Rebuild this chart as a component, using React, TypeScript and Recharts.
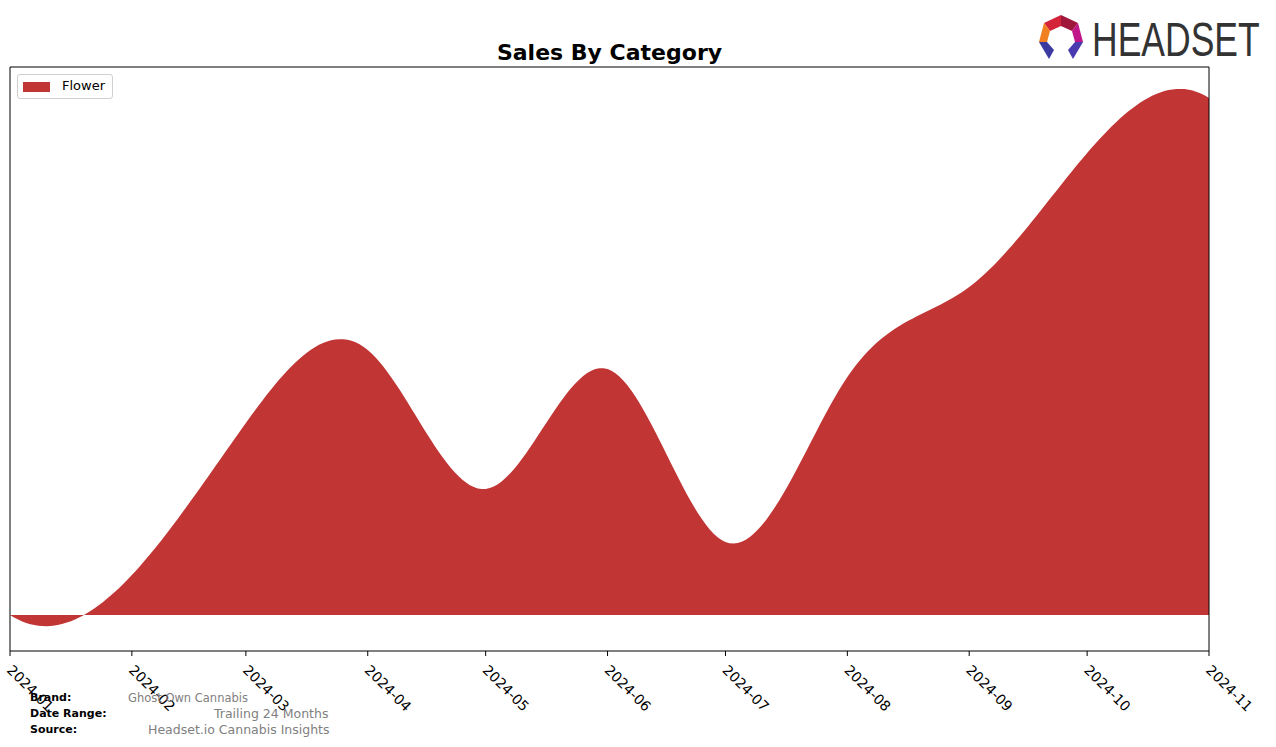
import { AreaChart, Area, XAxis, YAxis, ReferenceArea } from "recharts";

const months = ["2024-01", "2024-02", "2024-03", "2024-04", "2024-05", "2024-06", "2024-07", "2024-08", "2024-09", "2024-10", "2024-11"];
const flowerSales = [0, 40, 192, 265, 126, 246, 73, 238, 328, 462, 517];
const tickLabels = months;

const toTs = (m: string) => {
  const [y, mo] = m.split("-").map(Number);
  return Date.UTC(y, mo - 1, 1);
};

const data = months.map((m, i) => ({ ts: toTs(m), Flower: flowerSales[i] }));
const ticks = tickLabels.map(toTs);
const xMin = ticks[0];
const xMax = ticks[ticks.length - 1];
const yDomain: [number, number] = [-36, 548];

const FONT = "DejaVu Sans, sans-serif";
const RED = "#c13535";

const fmt = (v: number) => {
  const d = new Date(v);
  return `${d.getUTCFullYear()}-${String(d.getUTCMonth() + 1).padStart(2, "0")}`;
};

// cubic spline with not-a-knot ends, y as a function of x (like scipy's make_interp_spline)
function splineSecondDerivs(xs: number[], ys: number[]) {
  const n = xs.length;
  const h = xs.slice(1).map((x, i) => x - xs[i]);
  const A: number[][] = Array.from({ length: n }, () => new Array(n).fill(0));
  const b: number[] = new Array(n).fill(0);
  A[0][0] = h[1];
  A[0][1] = -(h[0] + h[1]);
  A[0][2] = h[0];
  for (let i = 1; i < n - 1; i++) {
    A[i][i - 1] = h[i - 1];
    A[i][i] = 2 * (h[i - 1] + h[i]);
    A[i][i + 1] = h[i];
    b[i] = 6 * ((ys[i + 1] - ys[i]) / h[i] - (ys[i] - ys[i - 1]) / h[i - 1]);
  }
  A[n - 1][n - 3] = h[n - 2];
  A[n - 1][n - 2] = -(h[n - 3] + h[n - 2]);
  A[n - 1][n - 1] = h[n - 3];
  // gaussian elimination
  for (let c = 0; c < n; c++) {
    let p = c;
    for (let r = c + 1; r < n; r++) if (Math.abs(A[r][c]) > Math.abs(A[p][c])) p = r;
    [A[c], A[p]] = [A[p], A[c]];
    [b[c], b[p]] = [b[p], b[c]];
    for (let r = c + 1; r < n; r++) {
      const f = A[r][c] / A[c][c];
      for (let k = c; k < n; k++) A[r][k] -= f * A[c][k];
      b[r] -= f * b[c];
    }
  }
  const M = new Array(n).fill(0);
  for (let r = n - 1; r >= 0; r--) {
    let s = b[r];
    for (let k = r + 1; k < n; k++) s -= A[r][k] * M[k];
    M[r] = s / A[r][r];
  }
  return M;
}

function notAKnotCurve(context: any) {
  let xs: number[] = [];
  let ys: number[] = [];
  let line = NaN;
  const draw = () => {
    const n = xs.length;
    if (!n) return;
    if (line) context.lineTo(xs[0], ys[0]);
    else context.moveTo(xs[0], ys[0]);
    const flat = ys.every((y) => y === ys[0]);
    if (n < 4 || flat) {
      for (let i = 1; i < n; i++) context.lineTo(xs[i], ys[i]);
      return;
    }
    const rev = xs[n - 1] < xs[0];
    const X = rev ? [...xs].reverse() : xs;
    const Y = rev ? [...ys].reverse() : ys;
    const M = splineSecondDerivs(X, Y);
    const pts: [number, number][] = [];
    const steps = 30;
    for (let i = 0; i < n - 1; i++) {
      const h = X[i + 1] - X[i];
      for (let s = i === 0 ? 0 : 1; s <= steps; s++) {
        const x = X[i] + (h * s) / steps;
        const a = X[i + 1] - x;
        const c = x - X[i];
        const y =
          (M[i] * a * a * a) / (6 * h) +
          (M[i + 1] * c * c * c) / (6 * h) +
          (Y[i] / h - (M[i] * h) / 6) * a +
          (Y[i + 1] / h - (M[i + 1] * h) / 6) * c;
        pts.push([x, y]);
      }
    }
    if (rev) pts.reverse();
    for (let i = 1; i < pts.length; i++) context.lineTo(pts[i][0], pts[i][1]);
  };
  return {
    areaStart() {
      line = 0;
    },
    areaEnd() {
      line = NaN;
    },
    lineStart() {
      xs = [];
      ys = [];
    },
    lineEnd() {
      draw();
      if (line || (line !== 0 && xs.length === 1)) context.closePath();
      line = 1 - line;
    },
    point(x: number, y: number) {
      xs.push(+x);
      ys.push(+y);
    },
  };
}

const RotatedTick = (props: any) => {
  const { x, y, payload } = props;
  return (
    <g transform={`translate(${x},${y + 2}) rotate(45)`}>
      <text x={5} y={0} dy="0.75em" textAnchor="start" fontSize={14} fill="#000" fontFamily={FONT}>
        {fmt(payload.value)}
      </text>
    </g>
  );
};

const LegendBox = () => (
  <div
    style={{
      position: "absolute",
      left: 17,
      top: 74,
      width: 94,
      height: 23,
      boxSizing: "content-box",
      border: "1px solid #d0d0d0",
      borderRadius: 3,
      background: "#fff",
      fontFamily: FONT,
      fontSize: 13,
    }}
  >
    <span style={{ position: "absolute", left: 5, top: 7, width: 27, height: 10, background: RED }} />
    <span style={{ position: "absolute", left: 44, top: 3, color: "#000" }}>Flower</span>
  </div>
);

const Logo = () => (
  <svg width={246} height={60} style={{ position: "absolute", left: 1030, top: 5 }} viewBox="1030 5 246 60">
    <polygon points="1061,15 1044,23 1050,31 1061,26" fill="#d4243a" />
    <polygon points="1061,15 1078,23 1072,31 1061,26" fill="#a0173c" />
    <polygon points="1044,23 1039,42 1047,42 1050,31" fill="#f08020" />
    <polygon points="1078,23 1083,42 1075,42 1072,31" fill="#c0168a" />
    <polygon points="1039,42 1047,42 1054,50 1049,59" fill="#3a3aa0" />
    <polygon points="1083,42 1075,42 1068,50 1073,59" fill="#4a3ab0" />
    <text transform="translate(1092,56) scale(0.74,1)" x={0} y={0} fontSize={48} fill="#333" fontFamily="Liberation Sans, sans-serif">
      HEADSET
    </text>
  </svg>
);

const footRow = (label: string, value: string, valueX: number, top: number, valueSize: number) => (
  <>
    <div style={{ position: "absolute", left: 30, top: top - 7, fontSize: 11, fontWeight: "bold", fontFamily: FONT, color: "#000", whiteSpace: "nowrap" }}>{label}</div>
    <div style={{ position: "absolute", left: valueX, top: top - (valueSize < 12 ? 7 : 8), fontSize: valueSize, fontFamily: FONT, color: "#808080", whiteSpace: "nowrap" }}>{value}</div>
  </>
);

export default function App() {
  return (
    <div style={{ position: "absolute", left: 0, top: 0, width: 1276, height: 747, background: "#fff", fontFamily: FONT }}>
      <div style={{ position: "absolute", left: 0, width: 1219, top: 40, textAlign: "center", fontSize: 22, fontWeight: "bold", color: "#000" }}>
        Sales By Category
      </div>
      <Logo />
      <AreaChart width={1276} height={747} data={data} margin={{ top: 67, right: 67, left: 10, bottom: 36 }}>
        <XAxis
          dataKey="ts"
          type="number"
          scale="time"
          domain={[xMin, xMax]}
          ticks={ticks}
          interval={0}
          tick={<RotatedTick />}
          tickLine={{ stroke: "#000" }}
          tickSize={5}
          axisLine={false}
          height={60}
          allowDataOverflow
        />
        <YAxis type="number" domain={yDomain} hide allowDataOverflow />
        <Area type={notAKnotCurve as any} dataKey="Flower" stroke="none" fill={RED} fillOpacity={1} isAnimationActive={false} />
        <ReferenceArea x1={xMin} x2={xMax} y1={yDomain[0]} y2={yDomain[1]} fill="none" stroke="#000" strokeWidth={1} ifOverflow="visible" />
      </AreaChart>
      <LegendBox />
      {footRow("Brand:", "Ghost Own Cannabis", 128, 698, 11.5)}
      {footRow("Date Range:", "Trailing 24 Months", 214, 714, 12.5)}
      {footRow("Source:", "Headset.io Cannabis Insights", 148, 730, 12.5)}
    </div>
  );
}
